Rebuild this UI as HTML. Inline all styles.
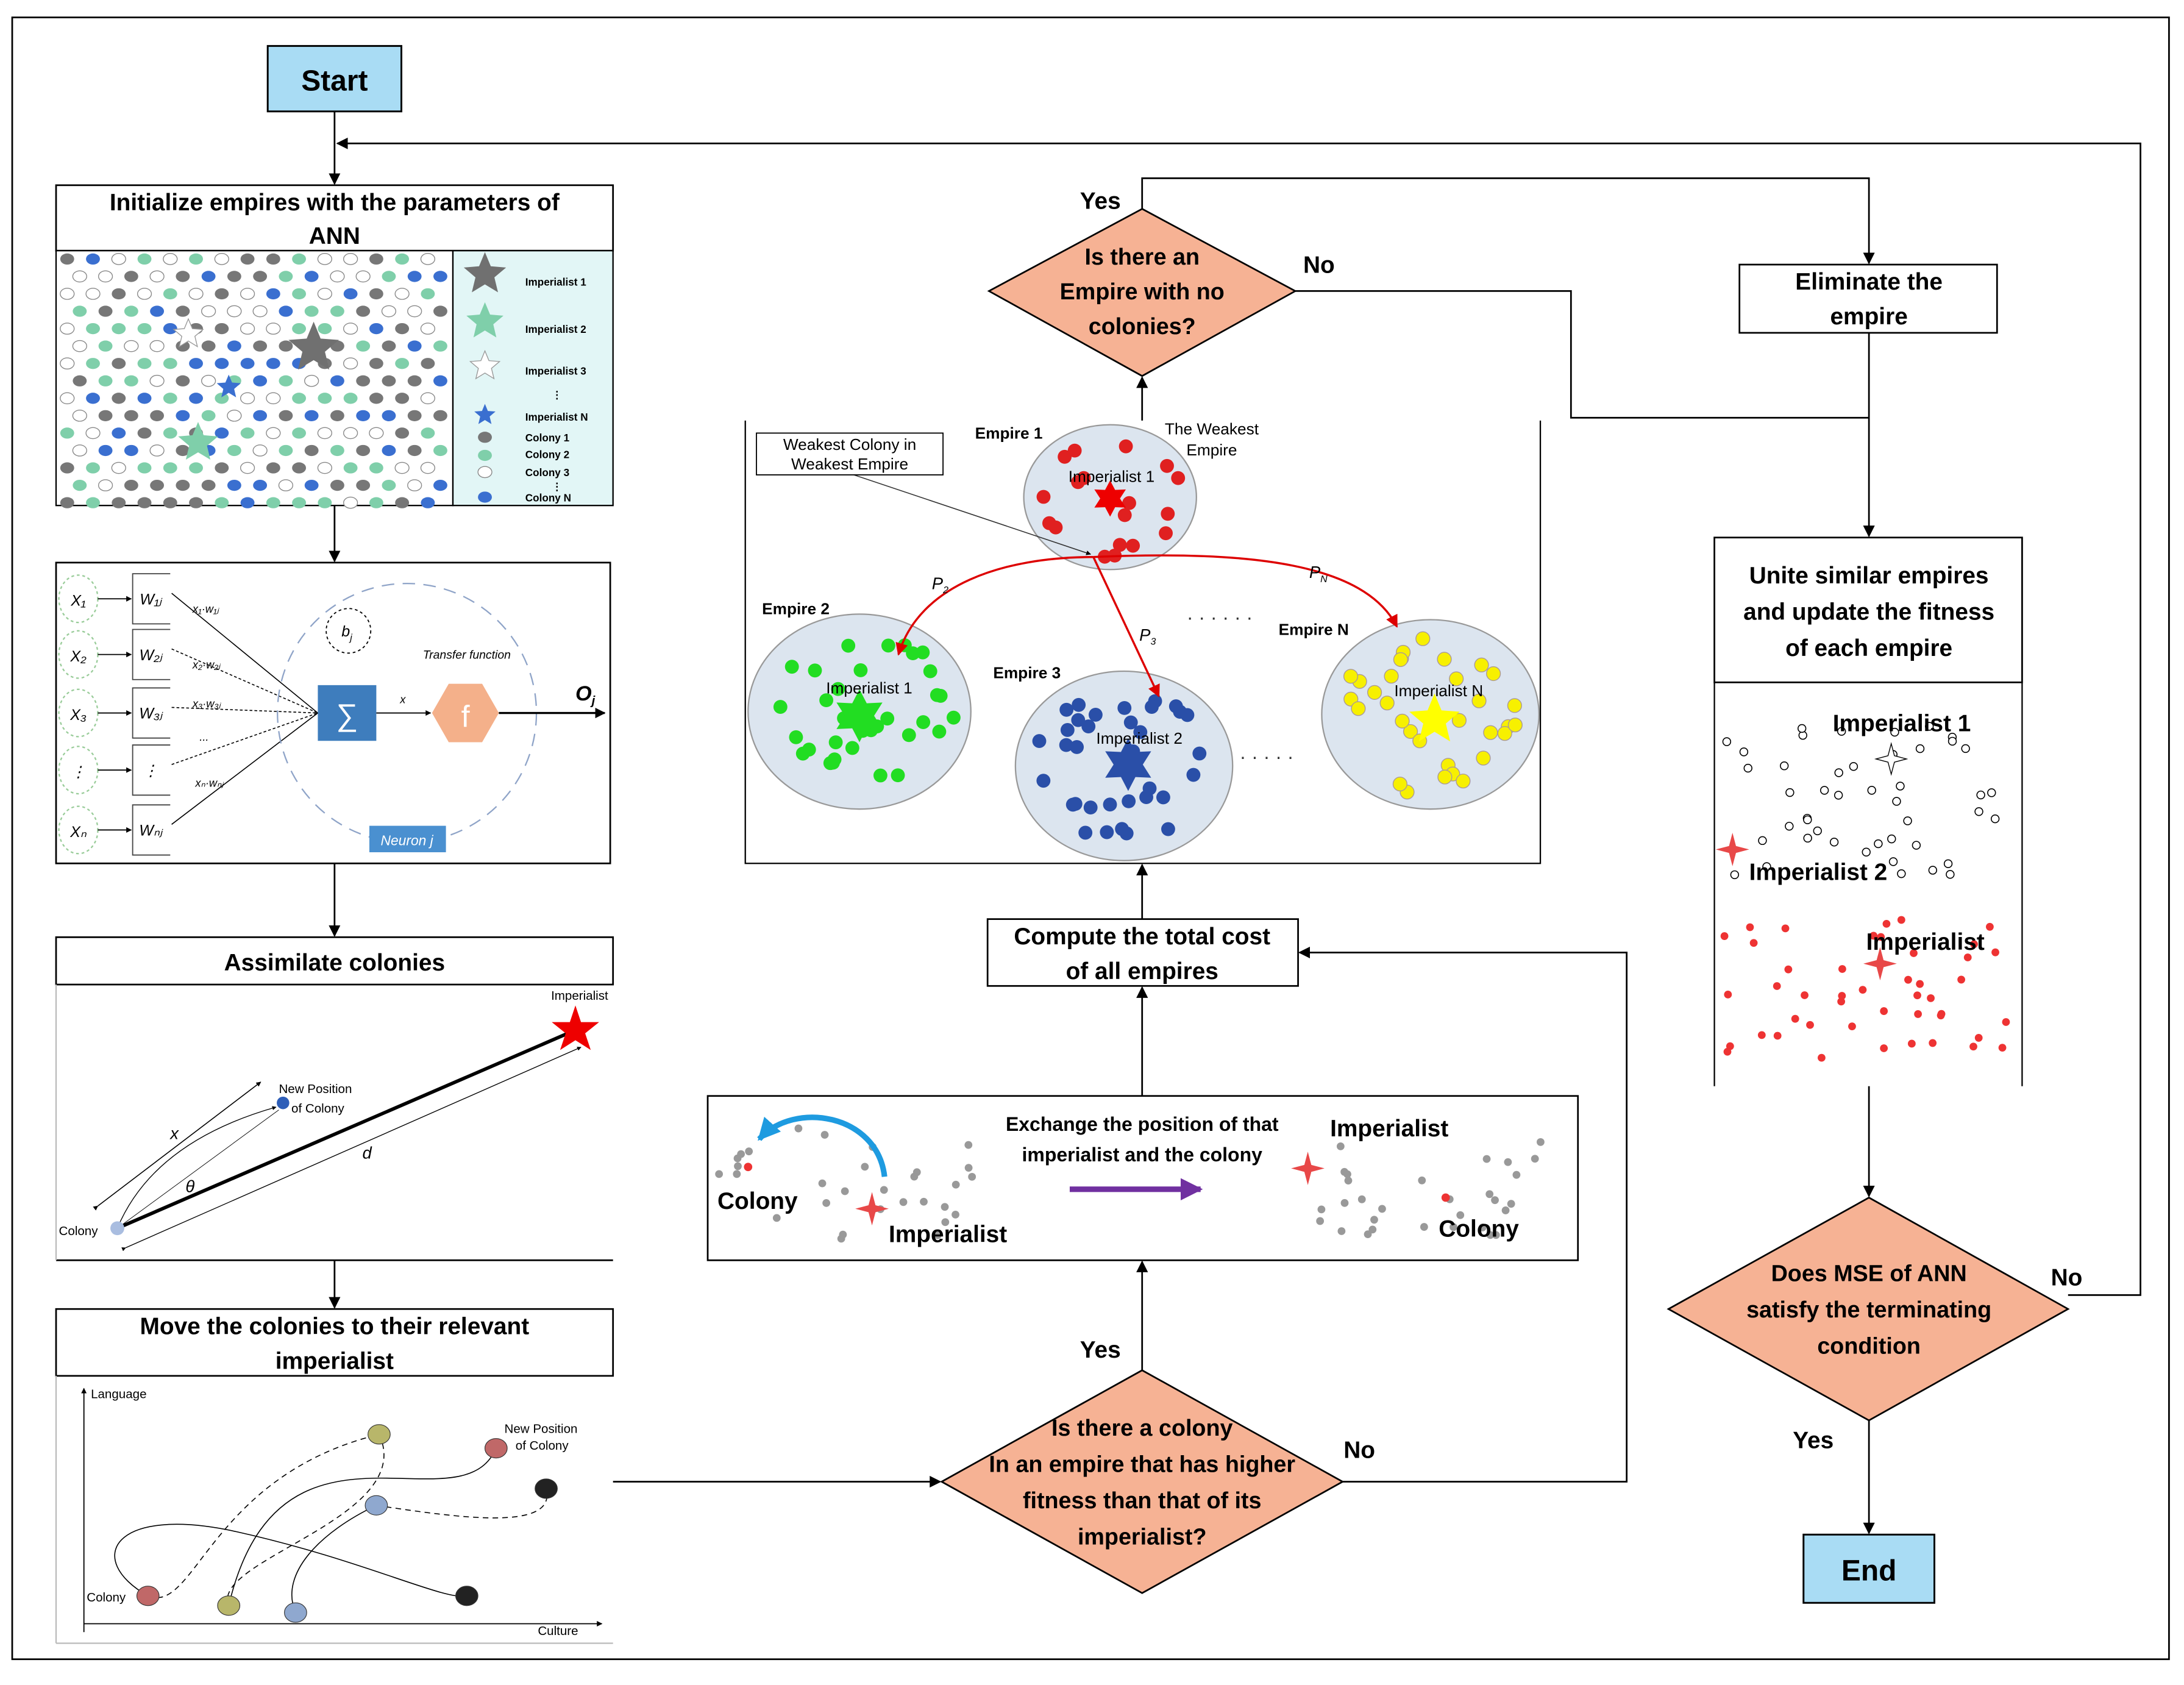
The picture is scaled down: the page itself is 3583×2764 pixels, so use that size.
<!DOCTYPE html>
<html><head><meta charset="utf-8"><style>
html,body{margin:0;padding:0;background:#fff}
svg{display:block}
text{font-family:"Liberation Sans",sans-serif}
.b{font-weight:bold}
</style></head><body>
<svg id="s" width="3583" height="2764" viewBox="0 0 1568 1210" xmlns="http://www.w3.org/2000/svg">
<defs>
<marker id="a" viewBox="0 0 10 10" refX="9" refY="5" markerWidth="7" markerHeight="7" orient="auto"><path d="M0,0L10,5L0,10z" fill="#000"/></marker>
<marker id="ar" viewBox="0 0 10 10" refX="9" refY="5" markerWidth="6" markerHeight="6" orient="auto"><path d="M0,0L10,5L0,10z" fill="#d00"/></marker>
<marker id="as" viewBox="0 0 10 10" refX="9" refY="5" markerWidth="5" markerHeight="5" orient="auto"><path d="M0,0L10,5L0,10z" fill="#000"/></marker>
<marker id="ap" viewBox="0 0 10 10" refX="9" refY="5" markerWidth="4" markerHeight="4" orient="auto"><path d="M0,0L10,5L0,10z" fill="#7030a0"/></marker>
<marker id="ab" viewBox="0 0 10 10" refX="9" refY="5" markerWidth="4" markerHeight="4" orient="auto"><path d="M0,0L10,5L0,10z" fill="#1e9be0"/></marker>
</defs>
<rect x="0" y="0" width="1568" height="1210" fill="#fff"/>
<rect x="8.5" y="12.5" width="1549" height="1179" fill="none" stroke="#000" stroke-width="1.2"/>

<!-- Start -->
<rect x="192" y="33" width="96" height="47" fill="#a9dcf4" stroke="#000" stroke-width="1.3"/>
<text x="240" y="65" font-size="21" class="b" text-anchor="middle">Start</text>
<line x1="240" y1="80" x2="240" y2="132" stroke="#000" stroke-width="1.2" marker-end="url(#a)"/>
<!-- feedback -->
<polyline points="1485,930 1537,930 1537,103 242,103" fill="none" stroke="#000" stroke-width="1.2" marker-end="url(#a)"/>

<!-- Init -->
<rect x="40" y="133" width="400" height="47" fill="#fff" stroke="#000" stroke-width="1.2"/>
<text x="240" y="151" font-size="17" class="b" text-anchor="middle">Initialize empires with the parameters of</text>
<text x="240" y="175" font-size="17" class="b" text-anchor="middle">ANN</text>
<rect x="40" y="180" width="285" height="183" fill="#fff" stroke="#000" stroke-width="1"/>
<rect x="325" y="180" width="115" height="183" fill="#e2f6f6" stroke="#000" stroke-width="1"/>
<g id="initdots"></g>
<g font-size="7.5" class="b">
<text x="377" y="205">Imperialist 1</text><text x="377" y="239">Imperialist 2</text><text x="377" y="269">Imperialist 3</text>
<text x="377" y="302">Imperialist N</text><text x="377" y="317">Colony 1</text><text x="377" y="329">Colony 2</text>
<text x="377" y="342">Colony 3</text><text x="377" y="360">Colony N</text><text x="396" y="286">⋮</text><text x="396" y="352">⋮</text></g>
<line x1="240" y1="363" x2="240" y2="403" stroke="#000" stroke-width="1.2" marker-end="url(#a)"/>

<!-- ANN -->
<rect x="40" y="404" width="398" height="216" fill="#fff" stroke="#000" stroke-width="1.2"/>
<g id="ann"></g>
<circle cx="292" cy="512" r="93" fill="none" stroke="#8fa4c8" stroke-width="1" stroke-dasharray="9,6"/>
<circle cx="250" cy="453" r="16" fill="none" stroke="#000" stroke-width="0.8" stroke-dasharray="2,2"/>
<text x="245" y="457" font-size="11" font-style="italic">b<tspan font-size="7" dy="3">j</tspan></text>
<rect x="228" y="492" width="42" height="40" fill="#3e7dbd"/>
<text x="249" y="521" font-size="22" fill="#fff" text-anchor="middle">∑</text>
<line x1="270" y1="512" x2="309" y2="512" stroke="#000" stroke-width="0.8" marker-end="url(#as)"/>
<text x="287" y="505" font-size="8" font-style="italic">x</text>
<polygon points="310,512 322,491 346,491 358,512 346,533 322,533" fill="#f4b08a"/>
<text x="334" y="522" font-size="22" fill="#fff" text-anchor="middle">f</text>
<line x1="358" y1="512" x2="434" y2="512" stroke="#000" stroke-width="1.5" marker-end="url(#as)"/>
<text x="413" y="503" font-size="15" class="b" font-style="italic">O<tspan font-size="9" dy="3">j</tspan></text>
<text x="335" y="473" font-size="8.5" font-style="italic" text-anchor="middle">Transfer function</text>
<rect x="265" y="593" width="55" height="19" fill="#4a90d0"/>
<text x="292" y="607" font-size="10" fill="#fff" font-style="italic" text-anchor="middle">Neuron j</text>
<line x1="240" y1="620" x2="240" y2="672" stroke="#000" stroke-width="1.2" marker-end="url(#a)"/>

<!-- Assimilate -->
<rect x="40" y="673" width="400" height="34" fill="#fff" stroke="#000" stroke-width="1.2"/>
<text x="240" y="697" font-size="17" class="b" text-anchor="middle">Assimilate colonies</text>
<line x1="40" y1="905" x2="440" y2="905" stroke="#000" stroke-width="1.2"/>
<line x1="40" y1="707" x2="40" y2="905" stroke="#bbb" stroke-width="1"/>
<line x1="84" y1="882" x2="410" y2="741" stroke="#000" stroke-width="2.5"/>
<polygon points="413,722 417,734 430,734 420,742 424,754 413,747 402,754 406,742 396,734 409,734" fill="#e00"/>
<text x="416" y="718" font-size="9" text-anchor="middle">Imperialist</text>
<line x1="90" y1="896" x2="417" y2="752" stroke="#000" stroke-width="0.6" marker-start="url(#as)" marker-end="url(#as)"/>
<line x1="70" y1="866" x2="187" y2="777" stroke="#000" stroke-width="0.7" marker-start="url(#as)" marker-end="url(#as)"/>
<path d="M84,882 Q110,820 198,795" fill="none" stroke="#000" stroke-width="0.6" marker-end="url(#as)"/>
<line x1="84" y1="882" x2="200" y2="797" stroke="#000" stroke-width="0.4"/>
<circle cx="84" cy="882" r="5" fill="#a9bde0"/>
<circle cx="203" cy="792" r="4.5" fill="#2e5eb8"/>
<text x="42" y="887" font-size="9">Colony</text>
<text x="200" y="785" font-size="9">New Position</text><text x="209" y="799" font-size="9">of Colony</text>
<text x="122" y="818" font-size="12" font-style="italic">x</text>
<text x="260" y="832" font-size="12" font-style="italic">d</text>
<text x="133" y="856" font-size="12" font-style="italic">θ</text>
<line x1="240" y1="905" x2="240" y2="939" stroke="#000" stroke-width="1.2" marker-end="url(#a)"/>

<!-- Move -->
<rect x="40" y="940" width="400" height="48" fill="#fff" stroke="#000" stroke-width="1.2"/>
<text x="240" y="958" font-size="17" class="b" text-anchor="middle">Move the colonies to their relevant</text>
<text x="240" y="983" font-size="17" class="b" text-anchor="middle">imperialist</text>
<line x1="40" y1="988" x2="40" y2="1180" stroke="#bbb"/><line x1="40" y1="1180" x2="440" y2="1180" stroke="#bbb"/>
<line x1="60" y1="1172" x2="60" y2="997" stroke="#000" stroke-width="0.8" marker-end="url(#as)"/>
<line x1="60" y1="1166" x2="432" y2="1166" stroke="#000" stroke-width="0.8" marker-end="url(#as)"/>
<text x="65" y="1004" font-size="9">Language</text><text x="386" y="1174" font-size="9">Culture</text>
<text x="362" y="1029" font-size="9">New Position</text><text x="370" y="1041" font-size="9">of Colony</text>
<text x="62" y="1150" font-size="9">Colony</text>
<g fill="none" stroke="#000" stroke-width="0.7">
<path d="M106,1146 C60,1120 80,1080 170,1100 C260,1120 320,1150 335,1146"/>
<path d="M106,1146 C140,1160 150,1060 272,1030" stroke-dasharray="4,3"/>
<path d="M272,1030 C300,1090 150,1120 164,1153" stroke-dasharray="4,3"/>
<path d="M164,1153 C200,1000 330,1100 356,1040"/>
<path d="M270,1081 C230,1100 200,1130 212,1158"/>
<path d="M270,1081 C330,1090 400,1100 392,1069" stroke-dasharray="4,3"/>
</g>
<g stroke="#333" stroke-width="0.5">
<ellipse cx="272" cy="1030" rx="8" ry="7" fill="#b8b66a"/><ellipse cx="356" cy="1040" rx="8" ry="7" fill="#c06868"/>
<ellipse cx="392" cy="1069" rx="8" ry="7" fill="#222"/><ellipse cx="270" cy="1081" rx="8" ry="7" fill="#8fa8cf"/>
<ellipse cx="335" cy="1146" rx="8" ry="7" fill="#222"/><ellipse cx="164" cy="1153" rx="8" ry="7" fill="#b8b66a"/>
<ellipse cx="212" cy="1158" rx="8" ry="7" fill="#8fa8cf"/><ellipse cx="106" cy="1146" rx="8" ry="7" fill="#c06868"/></g>
<line x1="440" y1="1064" x2="675" y2="1064" stroke="#000" stroke-width="1.2" marker-end="url(#a)"/>

<!-- Diamond colony -->
<polygon points="820,984 964,1064 820,1144 676,1064" fill="#f6b294" stroke="#000" stroke-width="1.2"/>
<g font-size="16.5" class="b" text-anchor="middle">
<text x="820" y="1031">Is there a colony</text><text x="820" y="1057">In an empire that has higher</text>
<text x="820" y="1083">fitness than that of its</text><text x="820" y="1109">imperialist?</text></g>
<text x="790" y="975" font-size="17" class="b" text-anchor="middle">Yes</text>
<text x="976" y="1047" font-size="17" class="b" text-anchor="middle">No</text>
<line x1="820" y1="984" x2="820" y2="906" stroke="#000" stroke-width="1.2" marker-end="url(#a)"/>
<polyline points="964,1064 1168,1064 1168,684 933,684" fill="none" stroke="#000" stroke-width="1.2" marker-end="url(#a)"/>

<!-- Exchange -->
<rect x="508" y="787" width="625" height="118" fill="#fff" stroke="#000" stroke-width="1.2"/>
<g id="exch"></g>
<path d="M635,845 C630,800 570,790 545,818" fill="none" stroke="#1e9be0" stroke-width="4" marker-end="url(#ab)"/>
<line x1="768" y1="854" x2="862" y2="854" stroke="#7030a0" stroke-width="4" marker-end="url(#ap)"/>
<text x="820" y="812" font-size="14" class="b" text-anchor="middle">Exchange the position of that</text>
<text x="820" y="834" font-size="14" class="b" text-anchor="middle">imperialist and the colony</text>
<text x="515" y="868" font-size="17" class="b">Colony</text>
<text x="638" y="892" font-size="17" class="b">Imperialist</text>
<text x="955" y="816" font-size="17" class="b">Imperialist</text>
<text x="1033" y="888" font-size="17" class="b">Colony</text>
<line x1="820" y1="787" x2="820" y2="709" stroke="#000" stroke-width="1.2" marker-end="url(#a)"/>

<!-- Compute -->
<rect x="709" y="660" width="223" height="48" fill="#fff" stroke="#000" stroke-width="1.2"/>
<text x="820" y="678" font-size="17" class="b" text-anchor="middle">Compute the total cost</text>
<text x="820" y="703" font-size="17" class="b" text-anchor="middle">of all empires</text>
<line x1="820" y1="660" x2="820" y2="621" stroke="#000" stroke-width="1.2" marker-end="url(#a)"/>

<!-- Empires image -->
<polyline points="535,302 535,620 1106,620 1106,302" fill="none" stroke="#000" stroke-width="1"/>
<ellipse cx="797" cy="357" rx="62" ry="52" fill="#dce5ef" stroke="#999"/>
<ellipse cx="617" cy="511" rx="80" ry="70" fill="#dce5ef" stroke="#999"/>
<ellipse cx="807" cy="550" rx="78" ry="68" fill="#dce5ef" stroke="#999"/>
<ellipse cx="1027" cy="513" rx="78" ry="68" fill="#dce5ef" stroke="#999"/>
<g id="emp"></g>
<path d="M785,400 C720,400 660,420 645,470" fill="none" stroke="#d00" stroke-width="1.5" marker-end="url(#ar)"/>
<line x1="785" y1="400" x2="832" y2="500" stroke="#d00" stroke-width="1.5" marker-end="url(#ar)"/>
<path d="M785,400 C900,395 980,405 1003,450" fill="none" stroke="#d00" stroke-width="1.5" marker-end="url(#ar)"/>
<line x1="610" y1="340" x2="783" y2="398" stroke="#333" stroke-width="0.7" marker-end="url(#as)"/>
<rect x="543" y="311" width="134" height="30" fill="#fff" stroke="#000" stroke-width="0.8"/>
<text x="610" y="323" font-size="11.5" text-anchor="middle">Weakest Colony in</text>
<text x="610" y="337" font-size="11.5" text-anchor="middle">Weakest Empire</text>
<g font-size="11.5" class="b"><text x="700" y="315">Empire 1</text><text x="547" y="441">Empire 2</text><text x="713" y="487">Empire 3</text><text x="918" y="456">Empire N</text></g>
<text x="870" y="312" font-size="11.5" text-anchor="middle">The Weakest</text><text x="870" y="327" font-size="11.5" text-anchor="middle">Empire</text>
<g font-size="12" font-family="Liberation Serif" font-style="italic"><text x="669" y="423">P<tspan font-size="7" dy="3">2</tspan></text><text x="818" y="460">P<tspan font-size="7" dy="3">3</tspan></text><text x="940" y="415">P<tspan font-size="7" dy="3">N</tspan></text></g>
<text x="852" y="448" font-size="14" fill="#333">·  ·  ·  ·  ·  ·</text>
<text x="890" y="548" font-size="14" fill="#333">·  ·  ·  ·  ·</text>
<g font-size="11.5" text-anchor="middle"><text x="798" y="346">Imperialist 1</text><text x="624" y="498">Imperialist 1</text><text x="818" y="534">Imperialist 2</text><text x="1033" y="500">Imperialist N</text></g>
<line x1="820" y1="302" x2="820" y2="271" stroke="#000" stroke-width="1.2" marker-end="url(#a)"/>

<!-- Diamond empire -->
<polygon points="820,150 930,209 820,270 710,209" fill="#f6b294" stroke="#000" stroke-width="1.2"/>
<g font-size="16.5" class="b" text-anchor="middle"><text x="820" y="190">Is there an</text><text x="820" y="215">Empire with no</text><text x="820" y="240">colonies?</text></g>
<text x="790" y="150" font-size="17" class="b" text-anchor="middle">Yes</text>
<text x="947" y="196" font-size="17" class="b" text-anchor="middle">No</text>
<polyline points="820,150 820,128 1342,128 1342,189" fill="none" stroke="#000" stroke-width="1.2" marker-end="url(#a)"/>
<polyline points="930,209 1128,209 1128,300 1342,300" fill="none" stroke="#000" stroke-width="1.2"/>

<!-- Eliminate -->
<rect x="1249" y="190" width="185" height="49" fill="#fff" stroke="#000" stroke-width="1.2"/>
<text x="1342" y="208" font-size="17" class="b" text-anchor="middle">Eliminate the</text>
<text x="1342" y="233" font-size="17" class="b" text-anchor="middle">empire</text>
<line x1="1342" y1="239" x2="1342" y2="385" stroke="#000" stroke-width="1.2" marker-end="url(#a)"/>

<!-- Unite -->
<rect x="1231" y="386" width="221" height="104" fill="#fff" stroke="#000" stroke-width="1.2"/>
<g font-size="17" class="b" text-anchor="middle"><text x="1342" y="419">Unite similar empires</text><text x="1342" y="445">and update the fitness</text><text x="1342" y="471">of each empire</text></g>
<line x1="1231" y1="490" x2="1231" y2="780" stroke="#000"/><line x1="1452" y1="490" x2="1452" y2="780" stroke="#000"/>
<g id="unite"></g>
<text x="1316" y="525" font-size="17" class="b">Imperialist 1</text>
<text x="1256" y="632" font-size="17" class="b">Imperialist 2</text>
<text x="1340" y="682" font-size="17" class="b">Imperialist</text>
<line x1="1342" y1="780" x2="1342" y2="859" stroke="#000" stroke-width="1.2" marker-end="url(#a)"/>

<!-- Diamond MSE -->
<polygon points="1342,860 1485,940 1342,1020 1198,940" fill="#f6b294" stroke="#000" stroke-width="1.2"/>
<g font-size="16.5" class="b" text-anchor="middle"><text x="1342" y="920">Does MSE of ANN</text><text x="1342" y="946">satisfy the terminating</text><text x="1342" y="972">condition</text></g>
<text x="1484" y="923" font-size="17" class="b" text-anchor="middle">No</text>
<text x="1302" y="1040" font-size="17" class="b" text-anchor="middle">Yes</text>
<line x1="1342" y1="1020" x2="1342" y2="1101" stroke="#000" stroke-width="1.2" marker-end="url(#a)"/>
<rect x="1295" y="1102" width="94" height="49" fill="#a9dcf4" stroke="#000" stroke-width="1.3"/>
<text x="1342" y="1135" font-size="21" class="b" text-anchor="middle">End</text>
</svg>
<script>
var seed=7;function r(){seed=(seed*16807)%2147483647;return seed/2147483647;}
var NS="http://www.w3.org/2000/svg";
function el(p,t,a){var e=document.createElementNS(NS,t);for(var k in a)e.setAttribute(k,a[k]);document.getElementById(p).appendChild(e);return e;}
function star(p,cx,cy,R,n,fill,stroke,ri){var pts=[];n=n||5;ri=ri||0.45;for(var i=0;i<2*n;i++){var rr=i%2?R*ri:R;var a=-Math.PI/2+i*Math.PI/n;pts.push((cx+rr*Math.cos(a)).toFixed(1)+","+(cy+rr*Math.sin(a)).toFixed(1));}el(p,"polygon",{points:pts.join(" "),fill:fill,stroke:stroke||"none","stroke-width":0.6});}
// init dots
var cols=["#777","#7fcfaa","#fff","#777","#7fcfaa","#fff","#777","#3a6fd0"];
for(var y=186,row=0;y<362;y+=12.5,row++){for(var x=48+(row%2)*9;x<320;x+=18.5){var c=cols[Math.floor(r()*cols.length)];el("initdots","ellipse",{cx:x,cy:y,rx:5,ry:4,fill:c,stroke:c=="#fff"?"#888":"none","stroke-width":0.6});}}
star("initdots",225,250,19,5,"#707070");star("initdots",142,318,15,5,"#7fcfaa");star("initdots",164,278,9,5,"#3a6fd0");star("initdots",135,240,11,5,"#fff","#999");
star("initdots",348,197,16,5,"#707070");star("initdots",348,231,14,5,"#7fcfaa");star("initdots",348,263,11,5,"#fff","#999");star("initdots",348,298,8,5,"#3a6fd0");
[["#777",314],["#7fcfaa",327],["#fff",339],["#3a6fd0",357]].forEach(function(d){el("initdots","ellipse",{cx:348,cy:d[1],rx:5,ry:4,fill:d[0],stroke:d[0]=="#fff"?"#888":"none","stroke-width":0.6});});
// ANN
var ys=[430,470,512,553,596],lab=["X₁","X₂","X₃","⋮","Xₙ"],wl=["W₁ⱼ","W₂ⱼ","W₃ⱼ","⋮","Wₙⱼ"];
ys.forEach(function(y,i){el("ann","ellipse",{cx:56,cy:y,rx:14,ry:17,fill:"none",stroke:"#9c9","stroke-dasharray":"2,2"});
var t=el("ann","text",{x:56,y:y+5,"font-size":11,"text-anchor":"middle","font-style":"italic"});t.textContent=lab[i];
el("ann","line",{x1:70,y1:y,x2:94,y2:y,stroke:"#000","stroke-width":0.8,"marker-end":"url(#as)"});
el("ann","polyline",{points:"122,"+(y-18)+" 95,"+(y-18)+" 95,"+(y+18)+" 122,"+(y+18),fill:"none",stroke:"#444","stroke-width":0.8});
var t2=el("ann","text",{x:108,y:y+4,"font-size":11,"text-anchor":"middle","font-style":"italic"});t2.textContent=wl[i];
el("ann","line",{x1:123,y1:y-4,x2:228,y2:512,stroke:"#000","stroke-width":0.7,"stroke-dasharray":i==0||i==4?"":"2,1.5"});});
[["x₁·w₁ⱼ",138,440],["x₂·w₂ⱼ",138,480],["x₃·w₃ⱼ",138,508],["...",143,532],["xₙ·wₙⱼ",140,565]].forEach(function(d){var t=el("ann","text",{x:d[1],y:d[2],"font-size":8,"font-style":"italic"});t.textContent=d[0];});
// exchange dots
for(var i=0;i<30;i++){el("exch","circle",{cx:515+r()*185,cy:810+r()*80,r:2.8,fill:"#999"});}
for(var i=0;i<30;i++){el("exch","circle",{cx:945+r()*175,cy:820+r()*70,r:2.8,fill:"#999"});}
el("exch","circle",{cx:537,cy:838,r:3,fill:"#e33"});el("exch","circle",{cx:1038,cy:860,r:3,fill:"#e33"});
star("exch",626,868,12,4,"#e84848",null,0.3);star("exch",939,839,12,4,"#e84848",null,0.3);
// empires
function fill(cx,cy,rx,ry,n,c,s){for(var i=0;i<n;i++){var a=r()*6.283,d=Math.sqrt(r())*0.85;el("emp","circle",{cx:cx+Math.cos(a)*rx*d,cy:cy+Math.sin(a)*ry*d,r:5,fill:c,stroke:s||"none","stroke-width":0.6});}}
fill(797,357,62,52,18,"#e02020");fill(617,511,80,70,34,"#22dd22");fill(807,550,78,68,34,"#2a4fa8");fill(1027,513,78,68,32,"#f7f000","#a99");
star("emp",797,358,13,6,"#e00",null,0.55);star("emp",617,514,19,6,"#22dd22",null,0.55);star("emp",810,549,19,6,"#2a4fa8",null,0.55);star("emp",1030,517,19,5,"#ff0",null,0.45);
// unite
for(var i=0;i<45;i++){el("unite","circle",{cx:1238+r()*195,cy:520+r()*110,r:2.8,fill:"#fff",stroke:"#000","stroke-width":0.7});}
for(var i=0;i<45;i++){el("unite","circle",{cx:1238+r()*208,cy:660+r()*100,r:2.8,fill:"#e33"});}
star("unite",1358,545,11,4,"#fff","#000",0.3);star("unite",1244,610,12,4,"#e84848",null,0.3);star("unite",1350,692,12,4,"#e84848",null,0.3);
</script>
</body></html>
